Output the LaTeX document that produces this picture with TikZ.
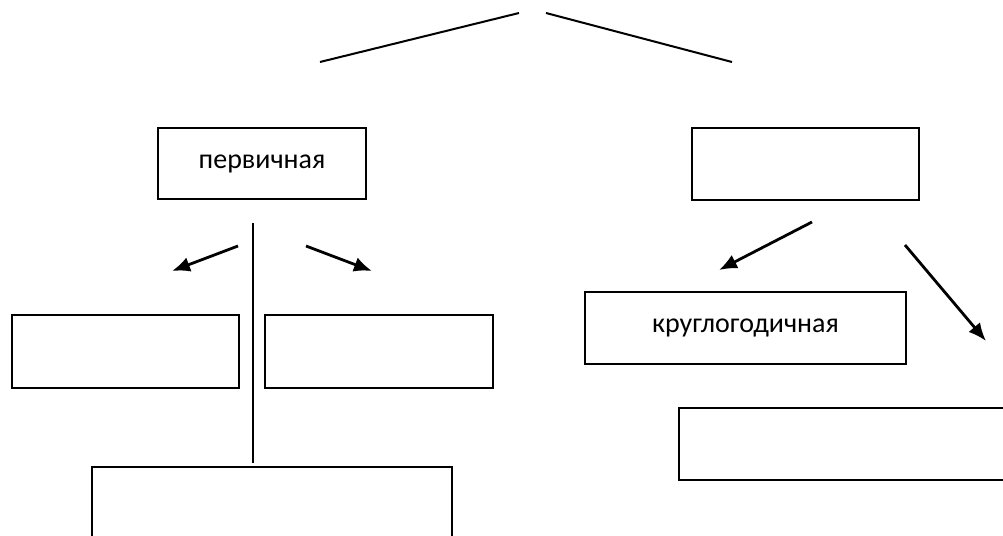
\documentclass[tikz,border=0pt]{standalone}
\usepackage{fontspec}
\setmainfont{Carlito}
\usepackage{tikz}
\usetikzlibrary{arrows.meta,positioning}

\begin{document}
\begin{tikzpicture}[
  x=0.5pt, y=-0.5pt,
  b/.style={draw, line width=1pt, inner sep=0pt, align=center, font=\fontsize{14}{17}\selectfont},
  a/.style={-{Latex[length=9pt,width=7.5pt]}, line width=1.4pt},
  l/.style={line width=1pt}
]
\useasboundingbox (0,0) rectangle (1003,536);
\clip (0,0) rectangle (1003,536);

% upper level
\node[b, minimum width=104pt, minimum height=35.5pt] (P) at (262,163.5) {первичная};
\node[b, minimum width=113.5pt, minimum height=36pt] (Q) at (805.5,164) {};

% left branch
\node[b, minimum width=113.5pt, minimum height=36.5pt] (P1) at (125.5,351.5) {};
\node[b, minimum width=114pt, minimum height=36.5pt] (P2) at (379,351.5) {};
\node[b, minimum width=180pt, minimum height=50pt] (P3) at (272,517) {};

% right branch
\node[b, minimum width=160.5pt, minimum height=36pt] (Q1) at (745.5,328) {круглогодичная};
\node[b, minimum width=170pt, minimum height=36pt] (Q2) at (849,444) {};

% free ends of the connectors
\coordinate (tl) at (519,13);  \coordinate (tl2) at (320,62);
\coordinate (tr) at (546,13);  \coordinate (tr2) at (732,62);
\coordinate (v1) at (253,223); \coordinate (v2) at (253,463);
\coordinate (pa) at (238,246); \coordinate (pb) at (306,246);
\coordinate (qa) at (812,222); \coordinate (qb) at (905,245);

\draw[l] (tl) -- (tl2);
\draw[l] (tr) -- (tr2);
\draw[l, line width=1.2pt] (v1) -- (v2);
\draw[a] (pa) -- (172,271);
\draw[a] (pb) -- (372,271);
\draw[a] (qa) -- (719,270);
\draw[a] (qb) -- (986,341);
\end{tikzpicture}
\end{document}
